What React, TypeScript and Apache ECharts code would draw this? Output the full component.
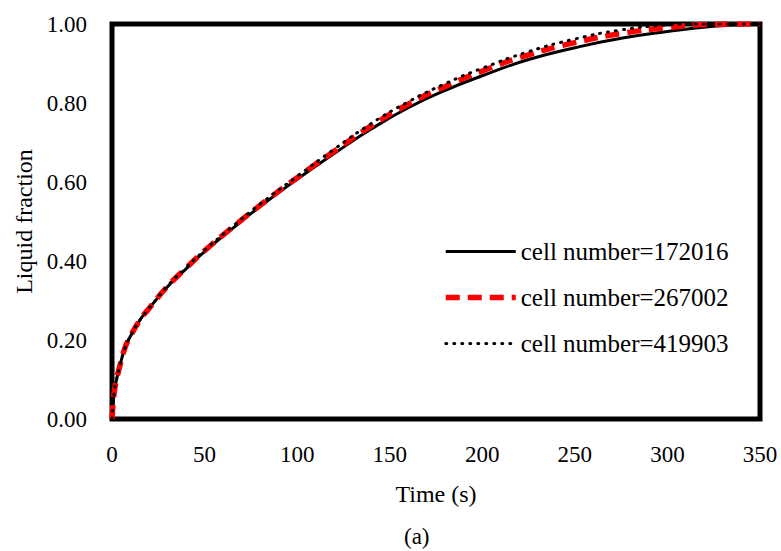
import React, { useEffect, useRef } from "react";
import * as echarts from "echarts";

const seriesNames = ["cell number=172016", "cell number=267002", "cell number=419903"];

const timeBlack = [0, 1, 2, 4, 7, 10, 15, 20, 30, 40, 50, 65, 80, 100, 120, 140, 160, 180, 200, 225, 250, 275, 300, 325, 350];
const fracBlack = [0, 0.06, 0.09, 0.13, 0.18, 0.21, 0.25, 0.28, 0.335, 0.38, 0.424, 0.482, 0.538, 0.607, 0.672, 0.734, 0.788, 0.832, 0.869, 0.91, 0.94, 0.964, 0.981, 0.994, 1.0];

const timeRed = [0, 1, 2, 4, 7, 10, 15, 20, 30, 40, 50, 65, 80, 100, 120, 140, 160, 180, 200, 225, 250, 275, 300, 325, 340, 350];
const fracRed = [0, 0.06, 0.09, 0.13, 0.18, 0.21, 0.25, 0.28, 0.336, 0.382, 0.426, 0.485, 0.541, 0.611, 0.678, 0.742, 0.797, 0.842, 0.881, 0.922, 0.953, 0.976, 0.991, 0.999, 1.0, 1.0];

const timeDot = [0, 1, 2, 4, 7, 10, 15, 20, 30, 40, 50, 65, 80, 100, 120, 140, 160, 180, 200, 225, 250, 275, 300, 310, 350];
const fracDot = [0, 0.06, 0.09, 0.13, 0.18, 0.21, 0.25, 0.28, 0.337, 0.383, 0.427, 0.487, 0.544, 0.614, 0.683, 0.748, 0.803, 0.849, 0.888, 0.93, 0.962, 0.985, 0.998, 1.0, 1.0];

const xTicks = [0, 50, 100, 150, 200, 250, 300, 350];
const yTicks = [0, 0.2, 0.4, 0.6, 0.8, 1.0];

const FONT = "Liberation Serif";

const pairs = (t: number[], v: number[]) => t.map((x, i) => [x, v[i]]);

const styles = [
  { color: "#000000", width: 3, type: "solid" as any, cap: "butt" },
  { color: "#ff0000", width: 5.5, type: [14, 8] as any, cap: "butt" },
  { color: "#000000", width: 3, type: [1, 7] as any, cap: "round" },
];
const seriesData = [pairs(timeBlack, fracBlack), pairs(timeRed, fracRed), pairs(timeDot, fracDot)];

export default function App() {
  const ref = useRef<HTMLDivElement>(null);
  useEffect(() => {
    document.body.style.margin = "0";
    if (!ref.current) return;
    const chart = echarts.init(ref.current, undefined, { renderer: "svg" });
    chart.setOption({
      animation: false,
      backgroundColor: "#ffffff",
      textStyle: { fontFamily: FONT, color: "#000" },
      grid: {
        left: 112,
        top: 24,
        right: 21,
        bottom: 132,
        show: true,
        borderColor: "#000",
        borderWidth: 5,
        backgroundColor: "transparent",
      },
      xAxis: {
        type: "value",
        min: xTicks[0],
        max: xTicks[xTicks.length - 1],
        interval: 50,
        name: "Time (s)",
        nameLocation: "middle",
        nameGap: 63,
        nameTextStyle: { fontSize: 24, fontFamily: FONT, color: "#000" },
        axisLine: { show: false },
        axisTick: { show: false },
        splitLine: { show: false },
        axisLabel: { fontSize: 23, fontFamily: FONT, color: "#000", margin: 24 },
      },
      yAxis: {
        type: "value",
        min: yTicks[0],
        max: yTicks[yTicks.length - 1],
        interval: 0.2,
        name: "Liquid fraction",
        nameLocation: "middle",
        nameGap: 76,
        nameTextStyle: { fontSize: 24, fontFamily: FONT, color: "#000" },
        axisLine: { show: false },
        axisTick: { show: false },
        splitLine: { show: false },
        axisLabel: {
          fontSize: 23,
          fontFamily: FONT,
          color: "#000",
          margin: 25,
          formatter: (v: number) => v.toFixed(2),
        },
      },
      legend: {
        orient: "vertical",
        left: 443,
        top: 239,
        padding: 0,
        itemWidth: 70,
        itemHeight: 14,
        itemGap: 21,
        itemStyle: { opacity: 0 },
        textStyle: { fontSize: 25, fontFamily: FONT, color: "#000" },
        data: seriesNames.map((name, i) => ({
          name,
          itemStyle: { opacity: 0 },
          lineStyle: { ...styles[i] },
        })),
      },
      series: seriesNames.map((name, i) => ({
        name,
        type: "line",
        data: seriesData[i],
        smooth: true,
        symbol: "none",
        lineStyle: { ...styles[i] },
        itemStyle: { color: styles[i].color },
      })),
      graphic: [
        {
          type: "text",
          left: 404,
          top: 525,
          style: { text: "(a)", font: `23px "${FONT}"`, fill: "#000" },
        },
      ],
    });
    return () => chart.dispose();
  }, []);
  return <div ref={ref} style={{ width: 781, height: 551 }} />;
}
